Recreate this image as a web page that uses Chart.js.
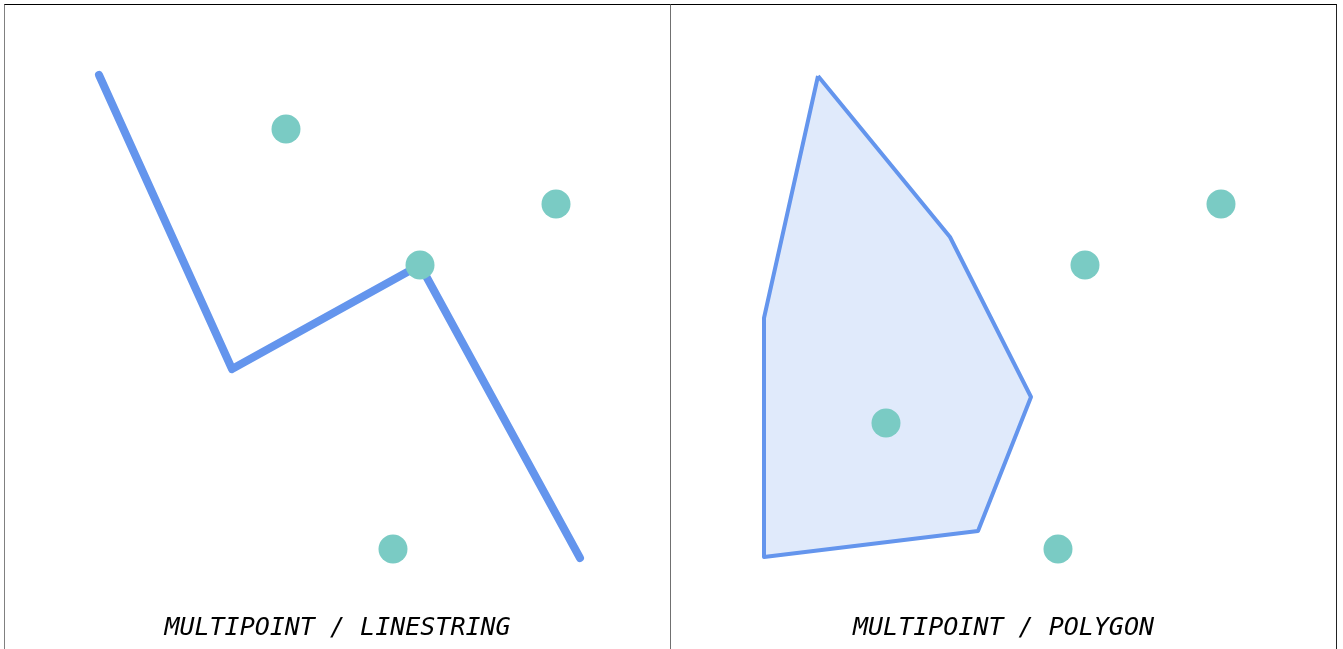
<!DOCTYPE html>
<html>
<head>
<meta charset="utf-8">
<script src="https://cdn.jsdelivr.net/npm/chart.js@4"></script>
<style>
  body { margin: 0; background: #fff; }
  .wrap { position: absolute; left: 4px; top: 4px; display: flex; }
  .panel { width: 665px; height: 644px; border-top: 1px solid #000; border-left: 1px solid #808080; position: relative; }
  .panel + .panel { border-left: 1px solid #707070; }
  .panel.last { border-right: 1px solid #222; }
  .panel canvas { display: block; }
</style>
</head>
<body>
<div class="wrap">
  <div class="panel"><canvas id="lineChart" width="665" height="644"></canvas></div>
  <div class="panel last"><canvas id="polyChart" width="665" height="644"></canvas></div>
</div>
<script>
// geometry coordinates (x right, y up)
const multiPointA = [
  { x: 281, y: 484 },
  { x: 551, y: 409 },
  { x: 415, y: 348 },
  { x: 388, y: 64 },
];
const lineString = [
  { x: 94, y: 538 },
  { x: 227, y: 244 },
  { x: 415, y: 348 },
  { x: 575, y: 55 },
];
const multiPointB = [
  { x: 550, y: 409 },
  { x: 414, y: 348 },
  { x: 215, y: 190 },
  { x: 387, y: 64 },
];
const polygon = [
  { x: 147, y: 537 },
  { x: 279, y: 376 },
  { x: 360, y: 216 },
  { x: 307, y: 82 },
  { x: 93, y: 56 },
  { x: 93, y: 295 },
  { x: 147, y: 537 },
];
const titles = ["MULTIPOINT / LINESTRING", "MULTIPOINT / POLYGON"];

const pointColor = "rgb(122, 203, 196)";
const lineColor = "rgb(100, 149, 237)";

const baseOptions = (title) => ({
  responsive: false,
  animation: false,
  layout: { padding: 0, autoPadding: false },
  scales: {
    x: { type: "linear", min: 0, max: 665, display: false },
    y: { type: "linear", min: 0, max: 608, display: false },
  },
  plugins: {
    legend: { display: false },
    tooltip: { enabled: false },
    title: {
      display: true,
      text: title,
      position: "bottom",
      color: "#000",
      font: { family: "'DejaVu Sans Mono'", size: 25, style: "italic", weight: "normal", lineHeight: 1.2 },
      padding: { top: 0, bottom: 6 },
    },
  },
});

new Chart(document.getElementById("lineChart"), {
  type: "scatter",
  data: {
    datasets: [
      {
        label: "MultiPoint",
        data: multiPointA,
        showLine: false,
        pointRadius: 14.5,
        pointBackgroundColor: pointColor,
        pointBorderWidth: 0,
        order: 0,
      },
      {
        label: "LineString",
        data: lineString,
        showLine: true,
        borderColor: lineColor,
        borderWidth: 8,
        borderCapStyle: "round",
        borderJoinStyle: "round",
        pointRadius: 0,
        order: 1,
      },
    ],
  },
  options: baseOptions(titles[0]),
});

new Chart(document.getElementById("polyChart"), {
  type: "scatter",
  data: {
    datasets: [
      {
        label: "MultiPoint",
        data: multiPointB,
        showLine: false,
        pointRadius: 14.5,
        pointBackgroundColor: pointColor,
        pointBorderWidth: 0,
        order: 0,
      },
      {
        label: "Polygon",
        data: polygon,
        showLine: true,
        fill: "shape",
        backgroundColor: "rgba(100, 149, 237, 0.2)",
        borderColor: lineColor,
        borderWidth: 4,
        borderJoinStyle: "round",
        pointRadius: 0,
        order: 1,
      },
    ],
  },
  options: baseOptions(titles[1]),
});
</script>
</body>
</html>
